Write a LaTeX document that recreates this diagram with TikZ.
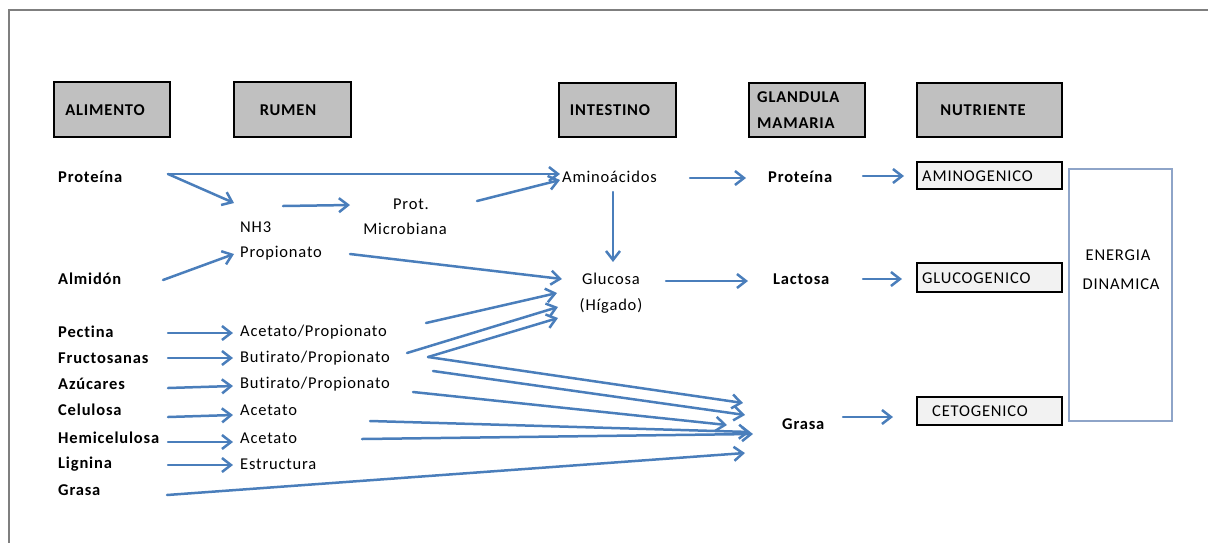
\documentclass[tikz,border=0pt]{standalone}
\usepackage{fontspec}
\setmainfont{Carlito}[LetterSpace=5,Ligatures=NoCommon]
\usetikzlibrary{arrows.meta}
\definecolor{arrblue}{HTML}{4A7EBB}
\definecolor{hdrgray}{HTML}{C0C0C0}
\definecolor{boxfill}{HTML}{F2F2F2}
\definecolor{framegray}{HTML}{7F7F7F}
\definecolor{energyblue}{HTML}{8EA4C8}
\tikzset{
  arr/.style={draw=arrblue, line width=2.5pt, line cap=round,
    -{Straight Barb[length=9pt,width=14pt,line width=2.5pt]}},
  hdr/.style={draw=black, line width=2pt, fill=hdrgray, inner sep=0pt},
  htxt/.style={font=\bfseries\fontsize{16.5}{19}\selectfont, inner sep=0pt},
  nbox/.style={draw=black, line width=2pt, fill=boxfill, inner sep=0pt,
    minimum width=145pt, minimum height=27pt},
  ntxt/.style={font=\fontsize{16.5}{19}\selectfont, inner sep=0pt, anchor=west},
  lbl/.style={font=\bfseries\fontsize{16.5}{19}\selectfont, inner sep=0pt, anchor=west},
  txt/.style={font=\fontsize{16.5}{19}\selectfont, inner sep=0pt, anchor=west},
  ctxt/.style={font=\fontsize{16.5}{19}\selectfont, inner sep=0pt},
}
\begin{document}
\begin{tikzpicture}[x=1pt,y=-1pt]
\useasboundingbox (0,0) rectangle (1208,542);
% frame
\draw[framegray, line width=2pt] (9,543) -- (9,10) -- (1209,10);

% header boxes
\node[hdr, minimum width=116pt, minimum height=55pt] (hali) at (112,109.5) {};
\node[hdr, minimum width=117pt, minimum height=55pt] (hrum) at (292.5,109.5) {};
\node[hdr, minimum width=117pt, minimum height=54pt] (hint) at (617.5,110) {};
\node[hdr, minimum width=116pt, minimum height=54pt] (hgla) at (807,110) {};
\node[hdr, minimum width=145pt, minimum height=54pt] (hnut) at (989.5,110) {};
\node[htxt] (tali) at (105,110) {ALIMENTO};
\node[htxt] (trum) at (288,110) {RUMEN};
\node[htxt] (tint) at (610,110) {INTESTINO};
\node[htxt, anchor=west] (tgla1) at (757,97) {GLANDULA};
\node[htxt, anchor=west] (tgla2) at (757,123) {MAMARIA};
\node[htxt] (tnut) at (983,110) {NUTRIENTE};

% nutrient boxes
\node[nbox] (amg) at (989.5,175.5) {};
\node[nbox, minimum height=29pt] (glg) at (989.5,277.5) {};
\node[nbox, minimum height=28pt] (ceg) at (989.5,411) {};
\node[ntxt] (tamg) at (922,176) {AMINOGENICO};
\node[ntxt] (tglg) at (922,278) {GLUCOGENICO};
\node[ntxt] (tceg) at (932,411) {CETOGENICO};
\node[draw=energyblue, line width=2pt, fill=white, minimum width=103pt,
      minimum height=252pt, inner sep=0pt] (ener) at (1120.5,295) {};
\node[ctxt] (ten1) at (1118,255) {ENERGIA};
\node[ctxt] (ten2) at (1121,284) {DINAMICA};

% left column
\node[lbl] (proL) at (58,177) {Proteína};
\node[lbl] (alm) at (58,279) {Almidón};
\node[lbl] (pec) at (58,332) {Pectina};
\node[lbl] (fru) at (58,358) {Fructosanas};
\node[lbl] (azu) at (58,384) {Azúcares};
\node[lbl] (cel) at (58,410) {Celulosa};
\node[lbl] (hem) at (58,438) {Hemicelulosa};
\node[lbl] (lig) at (58,464) {Lignina};
\node[lbl] (graL) at (58,490) {Grasa};

% rumen column
\node[txt] (nh3) at (240,227) {NH3};
\node[txt] (prop) at (240,253) {Propionato};
\node[txt] (acp) at (240,332) {Acetato/Propionato};
\node[txt] (bup1) at (240,358) {Butirato/Propionato};
\node[txt] (bup2) at (240,384) {Butirato/Propionato};
\node[txt] (ace1) at (240,410) {Acetato};
\node[txt] (ace2) at (240,438) {Acetato};
\node[txt] (est) at (240,464) {Estructura};
\node[ctxt] (pmic1) at (411,204) {Prot.};
\node[ctxt] (pmic2) at (405,229) {Microbiana};

% intestine
\node[txt] (amino) at (562,177) {Aminoácidos};
\node[ctxt] (glu) at (611,279) {Glucosa};
\node[ctxt] (hig) at (611,306) {(Hígado)};

% gland
\node[lbl] (proG) at (768,177) {Proteína};
\node[lbl] (lac) at (773,279) {Lactosa};
\node[lbl] (graG) at (782,424) {Grasa};

% arrow end points
\coordinate (a1s) at (168,174); \coordinate (a1e) at (560,174);
\coordinate (a2e) at (234,203);
\coordinate (a3s) at (283,206); \coordinate (a3e) at (350,205);
\coordinate (a4s) at (477,201); \coordinate (a4e) at (560,180);
\coordinate (a5s) at (163,280); \coordinate (a5e) at (234,254);
\coordinate (a6s) at (350,254); \coordinate (a6e) at (562,279);
\coordinate (a7s) at (613,192); \coordinate (a7e) at (613,262);
\coordinate (a8s) at (690,178); \coordinate (a8e) at (746,178);
\coordinate (a9s) at (863,176); \coordinate (a9e) at (904,176);
\coordinate (a10s) at (666,281); \coordinate (a10e) at (748,281);
\coordinate (a11s) at (863,279); \coordinate (a11e) at (902,279);
\coordinate (a12s) at (843,417); \coordinate (a12e) at (893,417);
% rumen inputs
\coordinate (l1s) at (168,333); \coordinate (l1e) at (233,333);
\coordinate (l2s) at (168,358); \coordinate (l2e) at (233,358);
\coordinate (l3s) at (168,388); \coordinate (l3e) at (233,386);
\coordinate (l4s) at (168,417); \coordinate (l4e) at (233,415);
\coordinate (l5s) at (168,442); \coordinate (l5e) at (233,442);
\coordinate (l6s) at (168,465); \coordinate (l6e) at (233,465);
% fan to glucose
\coordinate (g1s) at (426,323); \coordinate (g1e) at (557,293);
\coordinate (g2s) at (407,353); \coordinate (g2e) at (558,307);
\coordinate (gv) at (428,357);  \coordinate (g3e) at (558,318);
% fan to fat
\coordinate (f1e) at (743,403);
\coordinate (f2s) at (433,371); \coordinate (f2e) at (745,415);
\coordinate (f3s) at (413,392); \coordinate (f3e) at (727,425);
\coordinate (f4s) at (370,421); \coordinate (f4e) at (750,432);
\coordinate (f5s) at (362,439); \coordinate (f5e) at (753,434);
\coordinate (f6s) at (167,495); \coordinate (f6e) at (745,453);

\draw[arr] (a1s) -- (a1e);
\draw[arr] (a1s) -- (a2e);
\draw[arr] (a3s) -- (a3e);
\draw[arr] (a4s) -- (a4e);
\draw[arr] (a5s) -- (a5e);
\draw[arr] (a6s) -- (a6e);
\draw[arr] (a7s) -- (a7e);
\draw[arr] (a8s) -- (a8e);
\draw[arr] (a9s) -- (a9e);
\draw[arr] (a10s) -- (a10e);
\draw[arr] (a11s) -- (a11e);
\draw[arr] (a12s) -- (a12e);
\draw[arr] (l1s) -- (l1e);
\draw[arr] (l2s) -- (l2e);
\draw[arr] (l3s) -- (l3e);
\draw[arr] (l4s) -- (l4e);
\draw[arr] (l5s) -- (l5e);
\draw[arr] (l6s) -- (l6e);
\draw[arr] (g1s) -- (g1e);
\draw[arr] (g2s) -- (g2e);
\draw[arr] (gv) -- (g3e);
\draw[arr] (gv) -- (f1e);
\draw[arr] (f2s) -- (f2e);
\draw[arr] (f3s) -- (f3e);
\draw[arr] (f4s) -- (f4e);
\draw[arr] (f5s) -- (f5e);
\draw[arr] (f6s) -- (f6e);
\end{tikzpicture}
\end{document}
